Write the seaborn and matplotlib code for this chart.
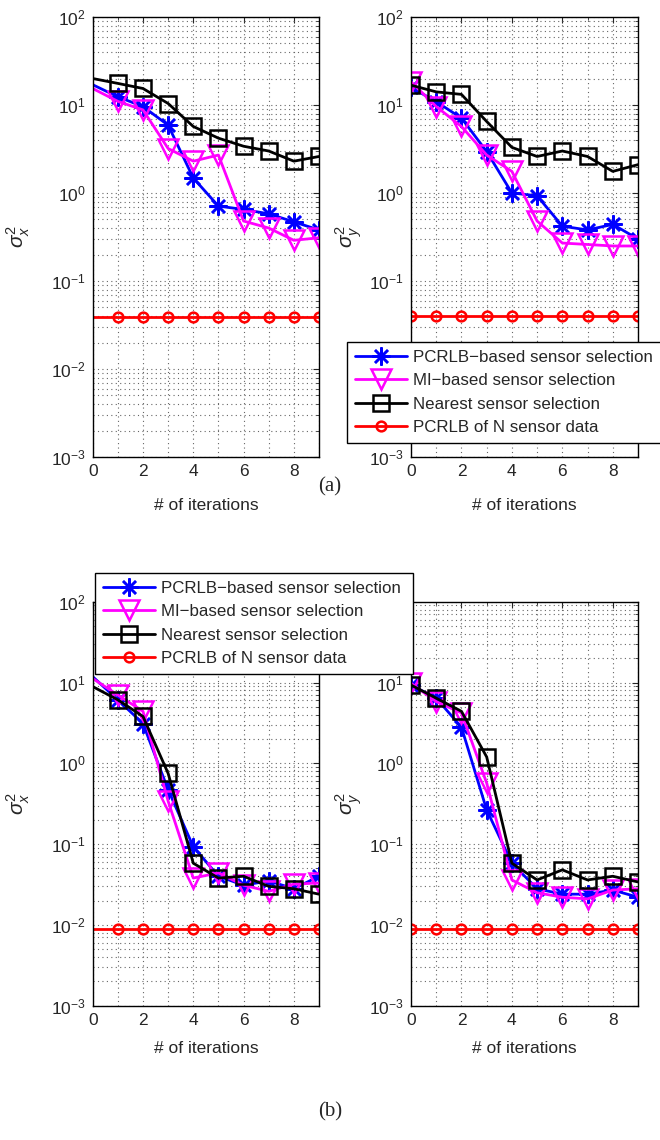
import matplotlib
matplotlib.use("Agg")
import matplotlib.pyplot as plt
import seaborn as sns
from matplotlib.ticker import LogLocator, MultipleLocator, NullFormatter

sns.set_style("white")
plt.rcParams['font.family'] = ['Liberation Sans', 'DejaVu Sans']
plt.rcParams['mathtext.fontset'] = 'custom'
plt.rcParams['mathtext.rm'] = 'Liberation Sans'
plt.rcParams['mathtext.it'] = 'Liberation Sans:italic'

iterations = [0, 1, 2, 3, 4, 5, 6, 7, 8, 9]
labels = ['PCRLB\u2212based sensor selection', 'MI\u2212based sensor selection',
          'Nearest sensor selection', 'PCRLB of N sensor data']

# (a) sigma_x^2
pcrlb_x_a = [17, 12.4, 9.6, 5.9, 1.48, 0.71, 0.65, 0.58, 0.47, 0.38]
mi_x_a = [15.4, 11.0, 8.8, 3.2, 2.3, 2.7, 0.48, 0.40, 0.29, 0.31]
near_x_a = [20, 17.6, 15.4, 10.4, 5.7, 4.2, 3.4, 3.0, 2.3, 2.6]
bound_x_a = [0.0385, 0.0385, 0.0385, 0.0385, 0.0385, 0.0385, 0.0385, 0.0385, 0.0385, 0.0385]

# (a) sigma_y^2
pcrlb_y_a = [15.9, 10.9, 7.1, 2.96, 1.0, 0.93, 0.42, 0.38, 0.44, 0.30]
mi_y_a = [18.4, 9.6, 5.7, 2.7, 1.76, 0.48, 0.27, 0.26, 0.25, 0.25]
near_y_a = [16.8, 14.1, 13.2, 6.5, 3.3, 2.6, 3.0, 2.6, 1.76, 2.1]
bound_y_a = [0.040, 0.040, 0.040, 0.040, 0.040, 0.040, 0.040, 0.040, 0.040, 0.040]

# (b) sigma_x^2
pcrlb_x_b = [11.8, 6.1, 3.1, 0.47, 0.093, 0.040, 0.031, 0.035, 0.028, 0.040]
mi_x_b = [11.2, 7.0, 4.4, 0.34, 0.038, 0.044, 0.031, 0.026, 0.032, 0.033]
near_x_b = [8.9, 6.1, 3.8, 0.75, 0.058, 0.038, 0.040, 0.030, 0.028, 0.024]
bound_x_b = [0.0088, 0.0088, 0.0088, 0.0088, 0.0088, 0.0088, 0.0088, 0.0088, 0.0088, 0.0088]

# (b) sigma_y^2
pcrlb_y_b = [9.3, 6.4, 2.8, 0.265, 0.058, 0.028, 0.024, 0.024, 0.027, 0.022]
mi_y_b = [9.8, 5.8, 4.2, 0.57, 0.036, 0.025, 0.022, 0.021, 0.027, 0.028]
near_y_b = [9.3, 6.4, 4.4, 1.2, 0.058, 0.036, 0.048, 0.036, 0.040, 0.034]
bound_y_b = [0.0088, 0.0088, 0.0088, 0.0088, 0.0088, 0.0088, 0.0088, 0.0088, 0.0088, 0.0088]

styles = [
    dict(color='#0000ff', marker=(8, 2, 0), markersize=13, mew=1.8),
    dict(color='#ff00ff', marker='v', markersize=14, mew=1.8),
    dict(color='black', marker='s', markersize=12, mew=1.8),
    dict(color='#ff0000', marker='o', markersize=7, mew=1.8),
]

W, H = 660, 1140
fig = plt.figure(figsize=(6.6, 11.4), dpi=100)


def add_ax(left, right, top, bottom):
    return fig.add_axes([left / W, 1 - bottom / H, (right - left) / W, (bottom - top) / H])


def draw_panel(ax, series, ylabel, skip_first, ylab_x, xlab_y):
    every = slice(1, None) if skip_first else None
    for vals, st, lab in zip(series, styles, labels):
        sns.lineplot(x=iterations, y=vals, ax=ax, color=st['color'], marker=st['marker'],
                     markersize=st['markersize'], markerfacecolor='none',
                     markeredgecolor=st['color'], markeredgewidth=st['mew'],
                     linewidth=2.0, markevery=every, label=lab, legend=False)
    ax.set_yscale('log')
    ax.set_ylim(1e-3, 1e2)
    ax.set_xlim(0, 9)
    ax.xaxis.set_major_locator(MultipleLocator(2))
    ax.xaxis.set_minor_locator(MultipleLocator(1))
    ax.yaxis.set_major_locator(LogLocator(base=10, numticks=10))
    ax.yaxis.set_minor_locator(LogLocator(base=10, subs=range(2, 10), numticks=20))
    ax.yaxis.set_minor_formatter(NullFormatter())
    ax.grid(True, which='both', linestyle=(0, (1, 3)), color='0.4', linewidth=0.8)
    ax.tick_params(direction='in', which='both', top=True, right=True, labelsize=12.5, pad=5)
    ax.tick_params(which='major', length=4)
    ax.tick_params(which='minor', length=2)
    for s in ax.spines.values():
        s.set_color('black')
        s.set_linewidth(1.0)
    ax.set_xlabel('# of iterations', fontsize=12.5)
    ax.set_ylabel(ylabel, fontsize=15)
    ax.yaxis.set_label_coords(ylab_x, 0.5)
    ax.xaxis.set_label_coords(0.5, xlab_y)


ax1 = add_ax(92.7, 319, 17, 457)
ax2 = add_ax(411, 638, 17, 457)
ax3 = add_ax(92.7, 319, 601.7, 1005.7)
ax4 = add_ax(411, 638, 601.7, 1005.7)

draw_panel(ax1, [pcrlb_x_a, mi_x_a, near_x_a, bound_x_a], r'$\sigma^2_x$', True, -0.27, -0.093)
draw_panel(ax2, [pcrlb_y_a, mi_y_a, near_y_a, bound_y_a], r'$\sigma^2_y$', False, -0.207, -0.093)
draw_panel(ax3, [pcrlb_x_b, mi_x_b, near_x_b, bound_x_b], r'$\sigma^2_x$', True, -0.27, -0.087)
draw_panel(ax4, [pcrlb_y_b, mi_y_b, near_y_b, bound_y_b], r'$\sigma^2_y$', False, -0.207, -0.087)

# the legend of (b) hides the top label of the right panel
fig.canvas.draw()
for lbl in ax4.get_yticklabels():
    if lbl.get_position()[1] >= 99:
        lbl.set_visible(False)

for ax, (lx, rx, ty) in [(ax2, (347, 664, 342)), (ax3, (95, 413, 573))]:
    handles, labs = ax.get_legend_handles_labels()
    leg = fig.legend(handles, labs, loc='upper left',
                     bbox_to_anchor=(lx / W, 1 - ty / H, (rx - lx) / W, 0),
                     mode='expand', fontsize=12.2, handlelength=3.1, handletextpad=0.35,
                     labelspacing=0.5, borderpad=0.45, borderaxespad=0, frameon=True,
                     fancybox=False, framealpha=1, edgecolor='black', numpoints=1)
    leg.get_frame().set_linewidth(1.0)
    for h in leg.legend_handles:
        h.set_markevery([1])

fig.text(330 / W, 1 - 487 / H, '(a)', ha='center', va='center', fontsize=15,
         family=['Liberation Serif', 'DejaVu Serif'])
fig.text(330 / W, 1 - 1112 / H, '(b)', ha='center', va='center', fontsize=15,
         family=['Liberation Serif', 'DejaVu Serif'])

fig.savefig('out.png', dpi=100)
